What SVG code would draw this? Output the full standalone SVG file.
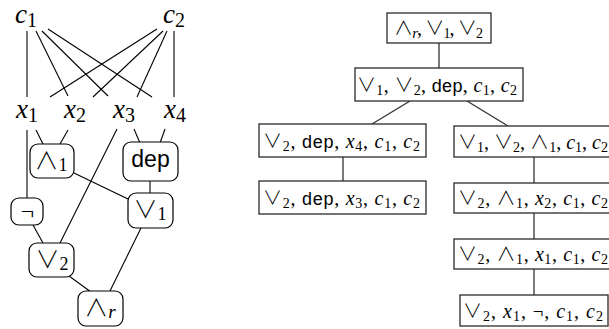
<svg xmlns="http://www.w3.org/2000/svg" width="609" height="329" viewBox="0 0 609 329">
<style>
.n rect{fill:#fff;stroke:#000;stroke-width:1.2}
.b rect{fill:#fff;stroke:#2a2a2a;stroke-width:1.3}
.e line{stroke:#000;stroke-width:1.1}
.e2 line{stroke:#333;stroke-width:1.3}
text{fill:#000}
.L{font-size:27px}
.m{font-family:"Liberation Serif",serif;font-style:italic}
.r{font-family:"Liberation Serif",serif;font-style:normal}
.s{font-family:"Noto Sans CJK JP","DejaVu Sans",sans-serif;font-weight:300}
.t{font-family:"Liberation Sans",sans-serif}
</style>
<g class="e" id="connectors-left">
<line x1="27" y1="31" x2="27" y2="97"/>
<line x1="36" y1="31" x2="68" y2="96"/>
<line x1="42" y1="31" x2="108" y2="96"/>
<line x1="48" y1="29" x2="152" y2="97"/>
<line x1="157" y1="29" x2="50" y2="97"/>
<line x1="163" y1="31" x2="93" y2="97"/>
<line x1="167" y1="31" x2="137" y2="97"/>
<line x1="174" y1="31" x2="174" y2="97"/>
<line x1="27" y1="130" x2="27" y2="198"/>
<line x1="36" y1="130" x2="43" y2="144"/>
<line x1="68" y1="130" x2="60" y2="144"/>
<line x1="134" y1="129" x2="140" y2="143"/>
<line x1="165" y1="129" x2="160" y2="143"/>
<line x1="117" y1="129" x2="60" y2="243"/>
<line x1="74" y1="173" x2="128" y2="199"/>
<line x1="150" y1="181" x2="150" y2="193"/>
<line x1="33" y1="225" x2="43" y2="243"/>
<line x1="69" y1="276" x2="91" y2="292"/>
<line x1="141" y1="228" x2="110" y2="291"/>
</g>
<g id="c1"><text class="L m" x="26" y="23" text-anchor="middle">c<tspan class="r" font-size="20" dy="4">1</tspan></text></g>
<g id="c2"><text class="L m" x="174" y="23" text-anchor="middle">c<tspan class="r" font-size="20" dy="4">2</tspan></text></g>
<g id="x1"><text class="L m" x="27" y="118" text-anchor="middle">x<tspan class="r" font-size="20" dy="4">1</tspan></text></g>
<g id="x2"><text class="L m" x="75" y="118" text-anchor="middle">x<tspan class="r" font-size="20" dy="4">2</tspan></text></g>
<g id="x3"><text class="L m" x="124" y="118" text-anchor="middle">x<tspan class="r" font-size="20" dy="4">3</tspan></text></g>
<g id="x4"><text class="L m" x="175" y="118" text-anchor="middle">x<tspan class="r" font-size="20" dy="4">4</tspan></text></g>
<g id="and1" class="n"><rect x="30" y="144" width="44" height="34" rx="8"/><text class="s" font-size="24" x="51" y="169" text-anchor="middle">∧<tspan class="r" font-size="18" dy="2">1</tspan></text></g>
<g id="dep" class="n"><rect x="123" y="142" width="55" height="39" rx="8"/><text class="t" font-size="23" x="150.5" y="167" text-anchor="middle">dep</text></g>
<g id="neg" class="n"><rect x="11" y="198" width="32" height="27" rx="8"/><text class="s" font-size="24" x="27.5" y="220" text-anchor="middle">¬</text></g>
<g id="or1" class="n"><rect x="128" y="193" width="45" height="35" rx="8"/><text class="s" font-size="24" x="150" y="218" text-anchor="middle">∨<tspan class="r" font-size="18" dy="2">1</tspan></text></g>
<g id="or2" class="n"><rect x="29" y="243" width="45" height="34" rx="8"/><text class="s" font-size="24" x="52" y="268" text-anchor="middle">∨<tspan class="r" font-size="18" dy="2">2</tspan></text></g>
<g id="andr" class="n"><rect x="78" y="291" width="45" height="35" rx="8"/><text class="s" font-size="24" x="100" y="316" text-anchor="middle">∧<tspan class="m" font-size="19" dy="2">r</tspan></text></g>
<g class="e2" id="connectors-right">
<line x1="439" y1="43" x2="439" y2="68"/>
<line x1="410" y1="101" x2="372" y2="124"/>
<line x1="467" y1="101" x2="508" y2="126"/>
<line x1="343" y1="157" x2="343" y2="181"/>
<line x1="534" y1="157" x2="534" y2="183"/>
<line x1="534" y1="213" x2="534" y2="239"/>
<line x1="534" y1="269" x2="534" y2="295"/>
</g>
<g id="t1" class="b"><rect x="387" y="13" width="104" height="30"/><text font-size="20" x="438.5" y="35" text-anchor="middle" textLength="89" lengthAdjust="spacing"><tspan class="s" font-size="19">∧</tspan><tspan class="m" font-size="15" dy="3">r</tspan><tspan class="r" dy="-3">, </tspan><tspan class="s" font-size="19">∨</tspan><tspan class="r" font-size="14" dy="3">1</tspan><tspan class="r" dy="-3">, </tspan><tspan class="s" font-size="19">∨</tspan><tspan class="r" font-size="14" dy="3">2</tspan></text></g>
<g id="t2" class="b"><rect x="355" y="68" width="168" height="33"/><text font-size="20" x="437" y="92" text-anchor="middle" textLength="160" lengthAdjust="spacing"><tspan class="s" font-size="19">∨</tspan><tspan class="r" font-size="14" dy="3">1</tspan><tspan class="r" dy="-3">, </tspan><tspan class="s" font-size="19">∨</tspan><tspan class="r" font-size="14" dy="3">2</tspan><tspan class="r" dy="-3">, </tspan><tspan class="t" font-size="18">dep</tspan><tspan class="r">, </tspan><tspan class="m">c</tspan><tspan class="r" font-size="14" dy="3">1</tspan><tspan class="r" dy="-3">, </tspan><tspan class="m">c</tspan><tspan class="r" font-size="14" dy="3">2</tspan></text></g>
<g id="t3" class="b"><rect x="259" y="124" width="167" height="33"/><text font-size="20" x="341.5" y="148" text-anchor="middle" textLength="157" lengthAdjust="spacing"><tspan class="s" font-size="19">∨</tspan><tspan class="r" font-size="14" dy="3">2</tspan><tspan class="r" dy="-3">, </tspan><tspan class="t" font-size="18">dep</tspan><tspan class="r">, </tspan><tspan class="m">x</tspan><tspan class="r" font-size="14" dy="3">4</tspan><tspan class="r" dy="-3">, </tspan><tspan class="m">c</tspan><tspan class="r" font-size="14" dy="3">1</tspan><tspan class="r" dy="-3">, </tspan><tspan class="m">c</tspan><tspan class="r" font-size="14" dy="3">2</tspan></text></g>
<g id="t4" class="b"><rect x="454" y="126" width="160" height="31"/><text font-size="20" x="533" y="149" text-anchor="middle" textLength="150" lengthAdjust="spacing"><tspan class="s" font-size="19">∨</tspan><tspan class="r" font-size="14" dy="3">1</tspan><tspan class="r" dy="-3">, </tspan><tspan class="s" font-size="19">∨</tspan><tspan class="r" font-size="14" dy="3">2</tspan><tspan class="r" dy="-3">, </tspan><tspan class="s" font-size="19">∧</tspan><tspan class="r" font-size="14" dy="3">1</tspan><tspan class="r" dy="-3">, </tspan><tspan class="m">c</tspan><tspan class="r" font-size="14" dy="3">1</tspan><tspan class="r" dy="-3">, </tspan><tspan class="m">c</tspan><tspan class="r" font-size="14" dy="3">2</tspan></text></g>
<g id="t5" class="b"><rect x="259" y="181" width="167" height="33"/><text font-size="20" x="341.5" y="205" text-anchor="middle" textLength="157" lengthAdjust="spacing"><tspan class="s" font-size="19">∨</tspan><tspan class="r" font-size="14" dy="3">2</tspan><tspan class="r" dy="-3">, </tspan><tspan class="t" font-size="18">dep</tspan><tspan class="r">, </tspan><tspan class="m">x</tspan><tspan class="r" font-size="14" dy="3">3</tspan><tspan class="r" dy="-3">, </tspan><tspan class="m">c</tspan><tspan class="r" font-size="14" dy="3">1</tspan><tspan class="r" dy="-3">, </tspan><tspan class="m">c</tspan><tspan class="r" font-size="14" dy="3">2</tspan></text></g>
<g id="t6" class="b"><rect x="454" y="183" width="160" height="30"/><text font-size="20" x="533" y="205" text-anchor="middle" textLength="150" lengthAdjust="spacing"><tspan class="s" font-size="19">∨</tspan><tspan class="r" font-size="14" dy="3">2</tspan><tspan class="r" dy="-3">, </tspan><tspan class="s" font-size="19">∧</tspan><tspan class="r" font-size="14" dy="3">1</tspan><tspan class="r" dy="-3">, </tspan><tspan class="m">x</tspan><tspan class="r" font-size="14" dy="3">2</tspan><tspan class="r" dy="-3">, </tspan><tspan class="m">c</tspan><tspan class="r" font-size="14" dy="3">1</tspan><tspan class="r" dy="-3">, </tspan><tspan class="m">c</tspan><tspan class="r" font-size="14" dy="3">2</tspan></text></g>
<g id="t7" class="b"><rect x="454" y="239" width="160" height="30"/><text font-size="20" x="533" y="261" text-anchor="middle" textLength="150" lengthAdjust="spacing"><tspan class="s" font-size="19">∨</tspan><tspan class="r" font-size="14" dy="3">2</tspan><tspan class="r" dy="-3">, </tspan><tspan class="s" font-size="19">∧</tspan><tspan class="r" font-size="14" dy="3">1</tspan><tspan class="r" dy="-3">, </tspan><tspan class="m">x</tspan><tspan class="r" font-size="14" dy="3">1</tspan><tspan class="r" dy="-3">, </tspan><tspan class="m">c</tspan><tspan class="r" font-size="14" dy="3">1</tspan><tspan class="r" dy="-3">, </tspan><tspan class="m">c</tspan><tspan class="r" font-size="14" dy="3">2</tspan></text></g>
<g id="t8" class="b"><rect x="460" y="295" width="148" height="31"/><text font-size="20" x="533" y="318" text-anchor="middle" textLength="140" lengthAdjust="spacing"><tspan class="s" font-size="19">∨</tspan><tspan class="r" font-size="14" dy="3">2</tspan><tspan class="r" dy="-3">, </tspan><tspan class="m">x</tspan><tspan class="r" font-size="14" dy="3">1</tspan><tspan class="r" dy="-3">, </tspan><tspan class="s" font-size="19">¬</tspan><tspan class="r">, </tspan><tspan class="m">c</tspan><tspan class="r" font-size="14" dy="3">1</tspan><tspan class="r" dy="-3">, </tspan><tspan class="m">c</tspan><tspan class="r" font-size="14" dy="3">2</tspan></text></g>
</svg>
